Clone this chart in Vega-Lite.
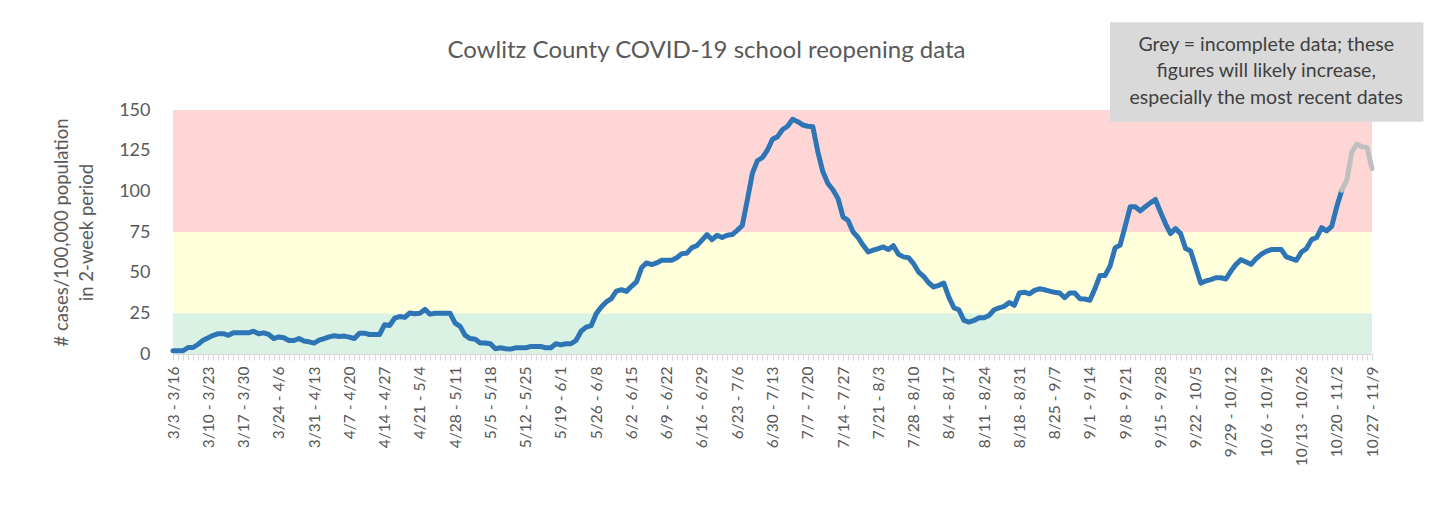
{
  "$schema": "https://vega.github.io/schema/vega-lite/v6.json",
  "width": 1199,
  "height": 244,
  "autosize": {"type": "none"},
  "padding": {"left": 173, "top": 110, "right": 68, "bottom": 160},
  "background": "white",
  "config": {"view": {"stroke": null}, "font": "Lato"},
  "title": {
    "text": "Cowlitz County COVID-19 school reopening data",
    "fontSize": 24,
    "fontWeight": "normal",
    "color": "#595959",
    "anchor": "middle",
    "dx": -66,
    "baseline": "alphabetic",
    "offset": -60
  },
  "data": {
    "values": [
      {"date": "2020-03-03", "value": 2}, {"date": "2020-03-04", "value": 2}, {"date": "2020-03-05", "value": 2}, {"date": "2020-03-06", "value": 4}, {"date": "2020-03-07", "value": 4}, {"date": "2020-03-08", "value": 6}, {"date": "2020-03-09", "value": 8.5}, {"date": "2020-03-10", "value": 10}, {"date": "2020-03-11", "value": 11.5}, {"date": "2020-03-12", "value": 12.5}, {"date": "2020-03-13", "value": 12.5}, {"date": "2020-03-14", "value": 11.5}, {"date": "2020-03-15", "value": 13}, {"date": "2020-03-16", "value": 13}, {"date": "2020-03-17", "value": 13}, {"date": "2020-03-18", "value": 13}, {"date": "2020-03-19", "value": 14}, {"date": "2020-03-20", "value": 12.5}, {"date": "2020-03-21", "value": 13}, {"date": "2020-03-22", "value": 12}, {"date": "2020-03-23", "value": 9.5}, {"date": "2020-03-24", "value": 10.5}, {"date": "2020-03-25", "value": 10}, {"date": "2020-03-26", "value": 8.3}, {"date": "2020-03-27", "value": 8.3}, {"date": "2020-03-28", "value": 9.5}, {"date": "2020-03-29", "value": 8}, {"date": "2020-03-30", "value": 7.5}, {"date": "2020-03-31", "value": 6.7},
      {"date": "2020-04-01", "value": 8.5}, {"date": "2020-04-02", "value": 9.5}, {"date": "2020-04-03", "value": 10.5}, {"date": "2020-04-04", "value": 11.2}, {"date": "2020-04-05", "value": 10.8}, {"date": "2020-04-06", "value": 11}, {"date": "2020-04-07", "value": 10.4}, {"date": "2020-04-08", "value": 9.5}, {"date": "2020-04-09", "value": 12.8}, {"date": "2020-04-10", "value": 12.8}, {"date": "2020-04-11", "value": 12}, {"date": "2020-04-12", "value": 12}, {"date": "2020-04-13", "value": 12}, {"date": "2020-04-14", "value": 18}, {"date": "2020-04-15", "value": 17.5}, {"date": "2020-04-16", "value": 22}, {"date": "2020-04-17", "value": 23}, {"date": "2020-04-18", "value": 22.5}, {"date": "2020-04-19", "value": 25.2}, {"date": "2020-04-20", "value": 24.7}, {"date": "2020-04-21", "value": 25}, {"date": "2020-04-22", "value": 27.4}, {"date": "2020-04-23", "value": 24.5}, {"date": "2020-04-24", "value": 25}, {"date": "2020-04-25", "value": 25}, {"date": "2020-04-26", "value": 25}, {"date": "2020-04-27", "value": 25}, {"date": "2020-04-28", "value": 19}, {"date": "2020-04-29", "value": 17}, {"date": "2020-04-30", "value": 11.4},
      {"date": "2020-05-01", "value": 9.5}, {"date": "2020-05-02", "value": 9.1}, {"date": "2020-05-03", "value": 6.7}, {"date": "2020-05-04", "value": 6.7}, {"date": "2020-05-05", "value": 6.3}, {"date": "2020-05-06", "value": 3.2}, {"date": "2020-05-07", "value": 3.8}, {"date": "2020-05-08", "value": 3.2}, {"date": "2020-05-09", "value": 3}, {"date": "2020-05-10", "value": 3.8}, {"date": "2020-05-11", "value": 3.8}, {"date": "2020-05-12", "value": 3.8}, {"date": "2020-05-13", "value": 4.6}, {"date": "2020-05-14", "value": 4.6}, {"date": "2020-05-15", "value": 4.6}, {"date": "2020-05-16", "value": 3.8}, {"date": "2020-05-17", "value": 3.8}, {"date": "2020-05-18", "value": 6.3}, {"date": "2020-05-19", "value": 5.6}, {"date": "2020-05-20", "value": 6.3}, {"date": "2020-05-21", "value": 6.3}, {"date": "2020-05-22", "value": 8.3}, {"date": "2020-05-23", "value": 14}, {"date": "2020-05-24", "value": 16.5}, {"date": "2020-05-25", "value": 17.4}, {"date": "2020-05-26", "value": 24.7}, {"date": "2020-05-27", "value": 28.9}, {"date": "2020-05-28", "value": 32}, {"date": "2020-05-29", "value": 34}, {"date": "2020-05-30", "value": 38.7}, {"date": "2020-05-31", "value": 39.5},
      {"date": "2020-06-01", "value": 38.5}, {"date": "2020-06-02", "value": 41.6}, {"date": "2020-06-03", "value": 44.3}, {"date": "2020-06-04", "value": 53}, {"date": "2020-06-05", "value": 56}, {"date": "2020-06-06", "value": 55}, {"date": "2020-06-07", "value": 56}, {"date": "2020-06-08", "value": 57.6}, {"date": "2020-06-09", "value": 57.6}, {"date": "2020-06-10", "value": 57.6}, {"date": "2020-06-11", "value": 59.2}, {"date": "2020-06-12", "value": 61.7}, {"date": "2020-06-13", "value": 62}, {"date": "2020-06-14", "value": 65.4}, {"date": "2020-06-15", "value": 66.6}, {"date": "2020-06-16", "value": 70}, {"date": "2020-06-17", "value": 73.4}, {"date": "2020-06-18", "value": 70.3}, {"date": "2020-06-19", "value": 73}, {"date": "2020-06-20", "value": 71.6}, {"date": "2020-06-21", "value": 73}, {"date": "2020-06-22", "value": 73.4}, {"date": "2020-06-23", "value": 76}, {"date": "2020-06-24", "value": 79}, {"date": "2020-06-25", "value": 94.6}, {"date": "2020-06-26", "value": 111}, {"date": "2020-06-27", "value": 118.8}, {"date": "2020-06-28", "value": 120.8}, {"date": "2020-06-29", "value": 125.4}, {"date": "2020-06-30", "value": 132},
      {"date": "2020-07-01", "value": 133.6}, {"date": "2020-07-02", "value": 138}, {"date": "2020-07-03", "value": 140}, {"date": "2020-07-04", "value": 144.3}, {"date": "2020-07-05", "value": 142.8}, {"date": "2020-07-06", "value": 140.8}, {"date": "2020-07-07", "value": 140}, {"date": "2020-07-08", "value": 139.7}, {"date": "2020-07-09", "value": 124.3}, {"date": "2020-07-10", "value": 112}, {"date": "2020-07-11", "value": 104.8}, {"date": "2020-07-12", "value": 101}, {"date": "2020-07-13", "value": 95.6}, {"date": "2020-07-14", "value": 84.3}, {"date": "2020-07-15", "value": 82}, {"date": "2020-07-16", "value": 75}, {"date": "2020-07-17", "value": 71.6}, {"date": "2020-07-18", "value": 66.8}, {"date": "2020-07-19", "value": 62.7}, {"date": "2020-07-20", "value": 63.8}, {"date": "2020-07-21", "value": 64.8}, {"date": "2020-07-22", "value": 65.8}, {"date": "2020-07-23", "value": 64.2}, {"date": "2020-07-24", "value": 66.6}, {"date": "2020-07-25", "value": 61.3}, {"date": "2020-07-26", "value": 59.7}, {"date": "2020-07-27", "value": 59.2}, {"date": "2020-07-28", "value": 55.5}, {"date": "2020-07-29", "value": 50.4}, {"date": "2020-07-30", "value": 47.7}, {"date": "2020-07-31", "value": 43.8},
      {"date": "2020-08-01", "value": 41.2}, {"date": "2020-08-02", "value": 42.2}, {"date": "2020-08-03", "value": 43.6}, {"date": "2020-08-04", "value": 35}, {"date": "2020-08-05", "value": 28.4}, {"date": "2020-08-06", "value": 27.2}, {"date": "2020-08-07", "value": 20.6}, {"date": "2020-08-08", "value": 19.6}, {"date": "2020-08-09", "value": 20.6}, {"date": "2020-08-10", "value": 22.3}, {"date": "2020-08-11", "value": 22.3}, {"date": "2020-08-12", "value": 23.7}, {"date": "2020-08-13", "value": 27.2}, {"date": "2020-08-14", "value": 28.4}, {"date": "2020-08-15", "value": 29.3}, {"date": "2020-08-16", "value": 31.7}, {"date": "2020-08-17", "value": 29.9}, {"date": "2020-08-18", "value": 37.5}, {"date": "2020-08-19", "value": 38}, {"date": "2020-08-20", "value": 37}, {"date": "2020-08-21", "value": 39.1}, {"date": "2020-08-22", "value": 40.1}, {"date": "2020-08-23", "value": 39.5}, {"date": "2020-08-24", "value": 38.7}, {"date": "2020-08-25", "value": 37.9}, {"date": "2020-08-26", "value": 37.5}, {"date": "2020-08-27", "value": 34.6}, {"date": "2020-08-28", "value": 37.5}, {"date": "2020-08-29", "value": 37.5}, {"date": "2020-08-30", "value": 34}, {"date": "2020-08-31", "value": 33.8},
      {"date": "2020-09-01", "value": 33}, {"date": "2020-09-02", "value": 40.1}, {"date": "2020-09-03", "value": 48.3}, {"date": "2020-09-04", "value": 48.3}, {"date": "2020-09-05", "value": 54}, {"date": "2020-09-06", "value": 65.2}, {"date": "2020-09-07", "value": 67}, {"date": "2020-09-08", "value": 78.5}, {"date": "2020-09-09", "value": 90.5}, {"date": "2020-09-10", "value": 90.5}, {"date": "2020-09-11", "value": 88}, {"date": "2020-09-12", "value": 90.5}, {"date": "2020-09-13", "value": 92.9}, {"date": "2020-09-14", "value": 95}, {"date": "2020-09-15", "value": 87.4}, {"date": "2020-09-16", "value": 80.2}, {"date": "2020-09-17", "value": 74}, {"date": "2020-09-18", "value": 77.1}, {"date": "2020-09-19", "value": 74}, {"date": "2020-09-20", "value": 64.8}, {"date": "2020-09-21", "value": 63.3}, {"date": "2020-09-22", "value": 53.5}, {"date": "2020-09-23", "value": 43.6}, {"date": "2020-09-24", "value": 44.9}, {"date": "2020-09-25", "value": 45.7}, {"date": "2020-09-26", "value": 46.9}, {"date": "2020-09-27", "value": 46.9}, {"date": "2020-09-28", "value": 46.1}, {"date": "2020-09-29", "value": 51}, {"date": "2020-09-30", "value": 55.1},
      {"date": "2020-10-01", "value": 58}, {"date": "2020-10-02", "value": 56.6}, {"date": "2020-10-03", "value": 55.1}, {"date": "2020-10-04", "value": 58.6}, {"date": "2020-10-05", "value": 61.3}, {"date": "2020-10-06", "value": 63.1}, {"date": "2020-10-07", "value": 64.2}, {"date": "2020-10-08", "value": 64.2}, {"date": "2020-10-09", "value": 64.2}, {"date": "2020-10-10", "value": 59.7}, {"date": "2020-10-11", "value": 58.6}, {"date": "2020-10-12", "value": 57.6}, {"date": "2020-10-13", "value": 62.7}, {"date": "2020-10-14", "value": 64.8}, {"date": "2020-10-15", "value": 70.3}, {"date": "2020-10-16", "value": 71.6}, {"date": "2020-10-17", "value": 77.7}, {"date": "2020-10-18", "value": 75.7}, {"date": "2020-10-19", "value": 78.5}, {"date": "2020-10-20", "value": 90.5},
      {"date": "2020-10-21", "value": 100.7, "status": "edge"}, {"date": "2020-10-22", "value": 106.9, "status": "incomplete"}, {"date": "2020-10-23", "value": 124.3, "status": "incomplete"}, {"date": "2020-10-24", "value": 129, "status": "incomplete"}, {"date": "2020-10-25", "value": 127.4, "status": "incomplete"}, {"date": "2020-10-26", "value": 127, "status": "incomplete"}, {"date": "2020-10-27", "value": 114, "status": "incomplete"}
    ]
  },
  "layer": [
    {
      "data": {"values": [{"zone": "low", "lo": 0, "hi": 25}, {"zone": "moderate", "lo": 25, "hi": 75}, {"zone": "high", "lo": 75, "hi": 150}]},
      "mark": {"type": "rect"},
      "encoding": {
        "y": {"field": "lo", "type": "quantitative", "scale": {"domain": [0, 150], "nice": false, "zero": true},
          "axis": {"values": [0, 25, 50, 75, 100, 125, 150], "grid": false, "domain": false, "ticks": false, "labelPadding": 23, "labelFontSize": 18, "labelColor": "#595959", "title": ["# cases/100,000 population", "in 2-week period"], "titleFontSize": 18.5, "titleFontWeight": "normal", "titleColor": "#595959", "titleLineHeight": 25, "titlePadding": 22}},
        "y2": {"field": "hi"},
        "color": {"field": "zone", "type": "nominal", "scale": {"domain": ["low", "moderate", "high"], "range": ["#DAF2E4", "#FFFFDC", "#FFD6D6"]}, "legend": null}
      }
    },
    {
      "transform": [{"filter": "datum.status !== 'incomplete'"}],
      "mark": {"type": "line", "color": "#2E75B6", "strokeWidth": 5, "strokeJoin": "round", "strokeCap": "round"},
      "encoding": {
        "x": {"field": "date", "type": "temporal",
          "scale": {"type": "utc", "domain": [{"year": 2020, "month": 3, "date": 3, "utc": true}, {"year": 2020, "month": 10, "date": 27, "utc": true}], "nice": false},
          "axis": {"title": null, "grid": false, "tickCount": {"interval": "day", "step": 1}, "domainColor": "#D9D9D9", "tickColor": "#D9D9D9", "tickSize": 6, "labelAngle": -90, "labelAlign": "right", "labelBaseline": "middle", "labelPadding": 6, "labelFontSize": 15.5, "labelColor": "#595959", "labelOverlap": false, "labelFlush": false, "labelBound": false,
            "labelExpr": "round((time(datum.value) - utc(2020, 2, 3)) / 86400000) % 7 == 0 ? utcFormat(time(datum.value), '%-m/%-d') + ' - ' + utcFormat(time(datum.value) + 13 * 86400000, '%-m/%-d') : ''"}},
        "y": {"field": "value", "type": "quantitative"}
      }
    },
    {
      "transform": [{"filter": "datum.status === 'edge' || datum.status === 'incomplete'"}],
      "mark": {"type": "line", "color": "#BFBFBF", "strokeWidth": 5, "strokeJoin": "round", "strokeCap": "round"},
      "encoding": {
        "x": {"field": "date", "type": "temporal"},
        "y": {"field": "value", "type": "quantitative"}
      }
    },
    {
      "data": {"values": [{}]},
      "mark": {"type": "rect", "color": "#D9D9D9", "clip": false},
      "encoding": {
        "x": {"datum": {"year": 2020, "month": 9, "date": 5, "utc": true}, "type": "temporal"},
        "x2": {"datum": {"year": 2020, "month": 11, "date": 6, "hours": 5, "utc": true}},
        "y": {"datum": 204, "type": "quantitative"},
        "y2": {"datum": 142.7}
      }
    },
    {
      "data": {"values": [{}]},
      "mark": {"type": "text", "text": ["Grey = incomplete data; these", "figures will likely increase,", "especially the most recent dates"], "fontSize": 19.5, "lineHeight": 26.5, "color": "#404040", "align": "center", "baseline": "middle", "clip": false},
      "encoding": {
        "x": {"datum": {"year": 2020, "month": 10, "date": 6, "utc": true}, "type": "temporal"},
        "y": {"datum": 190, "type": "quantitative"}
      }
    }
  ]
}
